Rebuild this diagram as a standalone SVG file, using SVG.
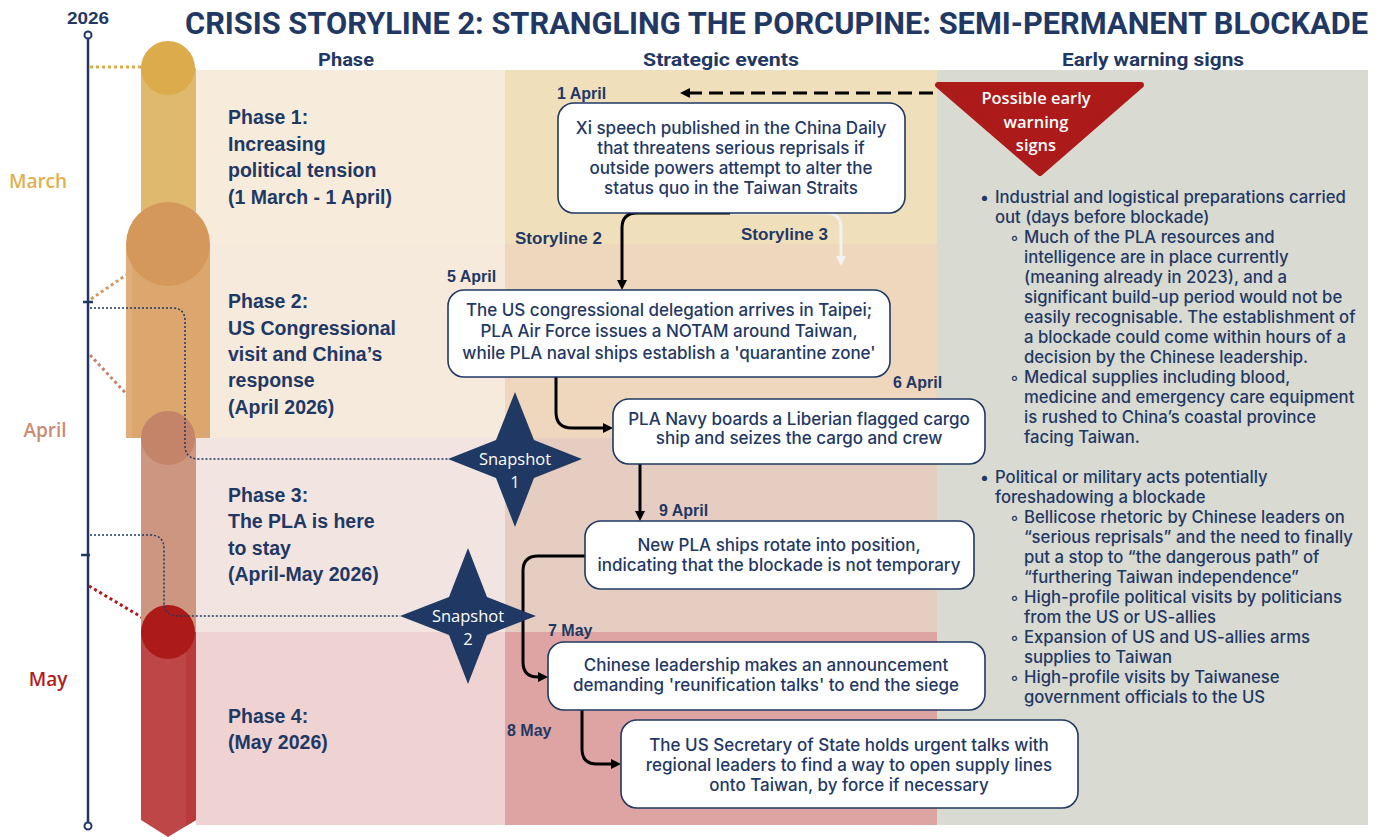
<svg xmlns="http://www.w3.org/2000/svg" width="1381" height="837" viewBox="0 0 1381 837">
<style>
.title{font-family:Roboto,"Liberation Sans",sans-serif;font-weight:700;font-size:31px;fill:#1f3864}
.hdr{font-family:Roboto,"Liberation Sans",sans-serif;font-weight:700;font-size:19px;fill:#1f3864;text-anchor:middle}
.phase{font-family:"Liberation Sans",Arial,sans-serif;font-weight:700;font-size:19.5px;fill:#1f3864}
.date{font-family:"Liberation Sans",Arial,sans-serif;font-weight:700;font-size:16px;fill:#1f3864}
.story{font-family:"Liberation Sans",Arial,sans-serif;font-weight:700;font-size:17px;fill:#1f3864}
.box{fill:#fff;stroke:#1f3864;stroke-width:1.6}
.bt{font-family:Inter,"Liberation Sans",sans-serif;font-weight:500;font-size:17px;fill:#1f3864;text-anchor:middle}
.ew{font-family:Inter,"Liberation Sans",sans-serif;font-weight:500;font-size:16.7px;fill:#1f3864}
.month{font-family:"Open Sans","Noto Sans",sans-serif;font-weight:600;font-size:19px;text-anchor:middle}
.snap{font-family:"Open Sans","Noto Sans",sans-serif;font-size:16.5px;fill:#fff;text-anchor:middle}
.warn{font-family:"Open Sans","Noto Sans",sans-serif;font-weight:600;font-size:16.5px;fill:#fff;text-anchor:middle}
.conn{fill:none;stroke:#000;stroke-width:3}
.dotn{fill:none;stroke:#1f3864;stroke-width:1.5;stroke-dasharray:2 2}
.dotc{fill:none;stroke-width:3;stroke-dasharray:3 3}
</style>
<defs>
<marker id="ah" viewBox="0 0 10 10" refX="2" refY="5" markerWidth="10" markerHeight="10" markerUnits="userSpaceOnUse" orient="auto"><path d="M0,0 L10,5 L0,10 z" fill="#000"/></marker>
<marker id="ahw" viewBox="0 0 10 10" refX="2" refY="5" markerWidth="10" markerHeight="10" markerUnits="userSpaceOnUse" orient="auto"><path d="M0,0 L10,5 L0,10 z" fill="#f2f2f2"/></marker>
</defs>
<rect width="1381" height="837" fill="#fff"/>
<g id="bands">
<rect x="196" y="70" width="309" height="174" fill="#f7ecdb"/>
<rect x="505" y="70" width="432" height="174" fill="#f0dfbb"/>
<rect x="196" y="244" width="309" height="194" fill="#f6eadd"/>
<rect x="505" y="244" width="432" height="194" fill="#eed7bd"/>
<rect x="196" y="438" width="309" height="194" fill="#f2e5e1"/>
<rect x="505" y="438" width="432" height="194" fill="#e6cdc1"/>
<rect x="196" y="632" width="309" height="193" fill="#efd3d3"/>
<rect x="505" y="632" width="432" height="193" fill="#dea3a3"/>
<rect x="937" y="70" width="431" height="755" fill="#d9dad1"/>
</g>
<text class="title" x="185" y="34" textLength="1183" lengthAdjust="spacingAndGlyphs">CRISIS STORYLINE 2: STRANGLING THE PORCUPINE: SEMI-PERMANENT BLOCKADE</text>
<text class="hdr" x="346" y="66" textLength="56" lengthAdjust="spacingAndGlyphs">Phase</text>
<text class="hdr" x="721" y="66" textLength="156" lengthAdjust="spacingAndGlyphs">Strategic events</text>
<text class="hdr" x="1153" y="66" textLength="182" lengthAdjust="spacingAndGlyphs">Early warning signs</text>
<g id="timeline">
<text x="88" y="24" text-anchor="middle" class="date" style="font-size:17px" textLength="42" lengthAdjust="spacingAndGlyphs">2026</text>
<line x1="88" y1="39" x2="88" y2="822" stroke="#1f3864" stroke-width="2.5"/>
<circle cx="88" cy="35" r="3.5" fill="#fff" stroke="#1f3864" stroke-width="2"/>
<circle cx="88" cy="826" r="3.5" fill="#fff" stroke="#1f3864" stroke-width="2"/>
<line x1="83" y1="302" x2="93" y2="302" stroke="#1f3864" stroke-width="2.5"/>
<line x1="81" y1="555" x2="90" y2="555" stroke="#1f3864" stroke-width="2.5"/>
<text class="month" x="38" y="188" fill="#e0b050">March</text>
<text class="month" x="45" y="437" fill="#cc8b72">April</text>
<text class="month" x="48" y="686" fill="#b01c1c">May</text>
<path class="dotc" stroke="#dcab4c" d="M90 67 H141"/>
<path class="dotc" stroke="#d4995a" d="M91 299 L132 271"/>
<path class="dotc" stroke="#c4846a" d="M90 355 L148 417"/>
<path class="dotc" stroke="#ad1a1a" d="M89 586 L143 618"/>
</g>
<g id="bar1">
<rect x="141" y="68" width="55" height="176" fill="#dfb96e"/>
<circle cx="168" cy="68" r="27" fill="#dcab4c"/>
</g>
<g id="bar2">
<rect x="126" y="244" width="84" height="194" fill="#dba76f"/>
<rect x="126" y="244" width="6" height="194" fill="#dfae7a"/>
<circle cx="168" cy="244" r="42" fill="#d4995a"/>
</g>
<g id="bar3">
<rect x="141" y="438" width="55" height="194" fill="#cd9680"/>
<circle cx="168" cy="438" r="27" fill="#c4846a"/>
</g>
<g id="bar4">
<path d="M141 632 H196 V820 L168 837 L141 820 Z" fill="#bf4646"/>
<path d="M186 632 H196 V820 L186 826 Z" fill="#b83a3a"/>
<circle cx="168" cy="632" r="27" fill="#ad1a1a"/>
</g>
<g id="phase1">
<text class="phase" x="228" y="124">Phase 1:</text>
<text class="phase" x="228" y="151">Increasing</text>
<text class="phase" x="228" y="177">political tension</text>
<text class="phase" x="228" y="204">(1 March - 1 April)</text>
</g>
<g id="phase2">
<text class="phase" x="228" y="308">Phase 2:</text>
<text class="phase" x="228" y="335">US Congressional</text>
<text class="phase" x="228" y="361">visit and China’s</text>
<text class="phase" x="228" y="387">response</text>
<text class="phase" x="228" y="414">(April 2026)</text>
</g>
<g id="phase3">
<text class="phase" x="228" y="502">Phase 3:</text>
<text class="phase" x="228" y="528">The PLA is here</text>
<text class="phase" x="228" y="555">to stay</text>
<text class="phase" x="228" y="581">(April-May 2026)</text>
</g>
<g id="phase4">
<text class="phase" x="228" y="723">Phase 4:</text>
<text class="phase" x="228" y="749">(May 2026)</text>
</g>
<g id="connectors">
<path class="dotn" d="M90 308 H172 Q185 308 185 321 V445 Q185 459 199 459 H448"/>
<path class="dotn" d="M90 535 H150 Q164 535 164 549 V602 Q164 616 178 616 H400"/>
<path fill="none" stroke="#000" stroke-width="3" stroke-dasharray="14 7" d="M933 93 H688" marker-end="url(#ah)"/>
<path fill="none" stroke="#f2f2f2" stroke-width="3" d="M730 213 H826 Q841 213 841 228 V258" marker-end="url(#ahw)"/>
<path class="conn" d="M730 213 H637 Q622 213 622 228 V282" marker-end="url(#ah)"/>
<path class="conn" d="M556 377 V412 Q556 428 572 428 H605" marker-end="url(#ah)"/>
<path class="conn" d="M640 464 V513" marker-end="url(#ah)"/>
<path class="conn" d="M585 556 H538 Q523 556 523 571 V662 Q523 677 538 677 H540" marker-end="url(#ah)"/>
<path class="conn" d="M582 710 V749 Q582 764 597 764 H613" marker-end="url(#ah)"/>
</g>
<g id="warning">
<path d="M938 85 H1141 L1040 173 Z" fill="#ad1a1a" stroke="#ad1a1a" stroke-width="6" stroke-linejoin="round"/>
<text class="warn" x="1036" y="104">Possible early</text>
<text class="warn" x="1036" y="128">warning</text>
<text class="warn" x="1036" y="151">signs</text>
</g>
<g id="snapshot1">
<path d="M515 392 L534 440 L582 459 L534 478 L515 527 L496 478 L448 459 L496 440 Z" fill="#1f3864"/>
<text class="snap" x="515" y="465">Snapshot</text>
<text class="snap" x="515" y="488">1</text>
</g>
<g id="snapshot2">
<path d="M468 548 L487 597 L536 616 L487 635 L468 684 L449 635 L400 616 L449 597 Z" fill="#1f3864"/>
<text class="snap" x="468" y="622">Snapshot</text>
<text class="snap" x="468" y="645">2</text>
</g>
<g id="ev1">
<text class="date" x="557" y="99">1 April</text>
<rect class="box" x="558" y="103" width="347" height="110" rx="16"/>
<text class="bt" x="731" y="134">Xi speech published in the China Daily</text>
<text class="bt" x="731" y="154">that threatens serious reprisals if</text>
<text class="bt" x="731" y="174">outside powers attempt to alter the</text>
<text class="bt" x="731" y="194">status quo in the Taiwan Straits</text>
</g>
<text class="story" x="515" y="244">Storyline 2</text>
<text class="story" x="741" y="240">Storyline 3</text>
<g id="ev2">
<text class="date" x="447" y="282">5 April</text>
<rect class="box" x="448" y="290" width="442" height="87" rx="16"/>
<text class="bt" x="669" y="316">The US congressional delegation arrives in Taipei;</text>
<text class="bt" x="669" y="337">PLA Air Force issues a NOTAM around Taiwan,</text>
<text class="bt" x="669" y="359">while PLA naval ships establish a 'quarantine zone'</text>
</g>
<g id="ev3">
<text class="date" x="893" y="388">6 April</text>
<rect class="box" x="613" y="399" width="372" height="65" rx="16"/>
<text class="bt" x="799" y="425">PLA Navy boards a Liberian flagged cargo</text>
<text class="bt" x="799" y="444">ship and seizes the cargo and crew</text>
</g>
<g id="ev4">
<text class="date" x="659" y="516">9 April</text>
<rect class="box" x="585" y="521" width="389" height="68" rx="16"/>
<text class="bt" x="779" y="551">New PLA ships rotate into position,</text>
<text class="bt" x="779" y="571">indicating that the blockade is not temporary</text>
</g>
<g id="ev5">
<text class="date" x="548" y="636">7 May</text>
<rect class="box" x="548" y="642" width="437" height="68" rx="16"/>
<text class="bt" x="766" y="671">Chinese leadership makes an announcement</text>
<text class="bt" x="766" y="691">demanding 'reunification talks' to end the siege</text>
</g>
<g id="ev6">
<text class="date" x="507" y="736">8 May</text>
<rect class="box" x="621" y="720" width="457" height="88" rx="16"/>
<text class="bt" x="849" y="751">The US Secretary of State holds urgent talks with</text>
<text class="bt" x="849" y="771">regional leaders to find a way to open supply lines</text>
<text class="bt" x="849" y="791">onto Taiwan, by force if necessary</text>
</g>
<g id="warnlist">
<text class="ew" x="980" y="203">•</text>
<text class="ew" x="995" y="203">Industrial and logistical preparations carried</text>
<text class="ew" x="995" y="223">out (days before blockade)</text>
<text class="ew" x="1010" y="243">◦</text>
<text class="ew" x="1024" y="243">Much of the PLA resources and</text>
<text class="ew" x="1024" y="263">intelligence are in place currently</text>
<text class="ew" x="1024" y="283">(meaning already in 2023), and a</text>
<text class="ew" x="1024" y="303">significant build-up period would not be</text>
<text class="ew" x="1024" y="323">easily recognisable. The establishment of</text>
<text class="ew" x="1024" y="343">a blockade could come within hours of a</text>
<text class="ew" x="1024" y="363">decision by the Chinese leadership.</text>
<text class="ew" x="1010" y="383">◦</text>
<text class="ew" x="1024" y="383">Medical supplies including blood,</text>
<text class="ew" x="1024" y="403">medicine and emergency care equipment</text>
<text class="ew" x="1024" y="423">is rushed to China’s coastal province</text>
<text class="ew" x="1024" y="443">facing Taiwan.</text>
<text class="ew" x="980" y="483">•</text>
<text class="ew" x="995" y="483">Political or military acts potentially</text>
<text class="ew" x="995" y="503">foreshadowing a blockade</text>
<text class="ew" x="1010" y="523">◦</text>
<text class="ew" x="1024" y="523">Bellicose rhetoric by Chinese leaders on</text>
<text class="ew" x="1024" y="543">“serious reprisals” and the need to finally</text>
<text class="ew" x="1024" y="563">put a stop to “the dangerous path” of</text>
<text class="ew" x="1024" y="583">“furthering Taiwan independence”</text>
<text class="ew" x="1010" y="603">◦</text>
<text class="ew" x="1024" y="603">High-profile political visits by politicians</text>
<text class="ew" x="1024" y="623">from the US or US-allies</text>
<text class="ew" x="1010" y="643">◦</text>
<text class="ew" x="1024" y="643">Expansion of US and US-allies arms</text>
<text class="ew" x="1024" y="663">supplies to Taiwan</text>
<text class="ew" x="1010" y="683">◦</text>
<text class="ew" x="1024" y="683">High-profile visits by Taiwanese</text>
<text class="ew" x="1024" y="703">government officials to the US</text>
</g>
</svg>
